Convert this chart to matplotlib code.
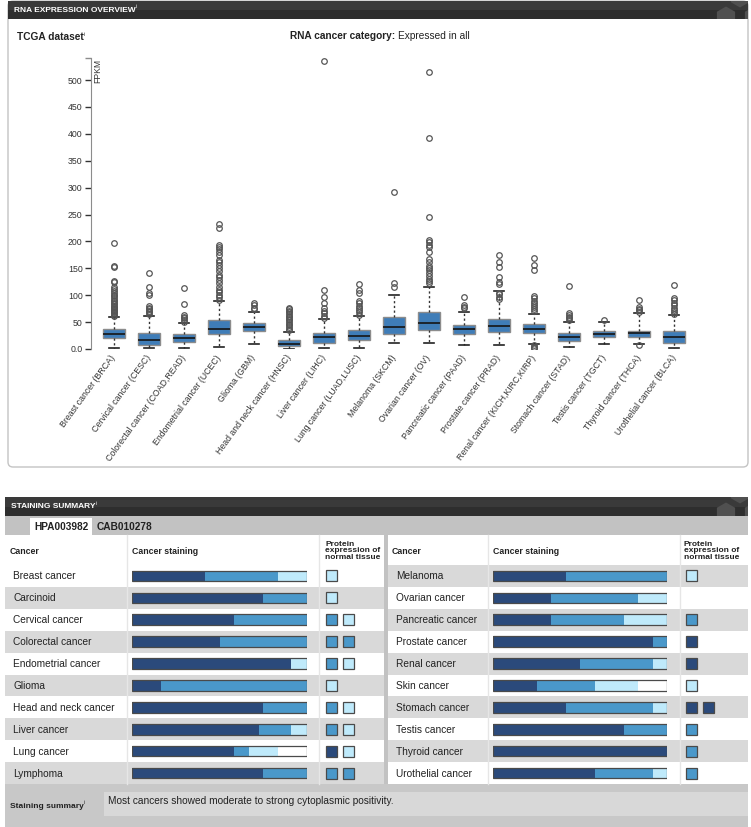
import numpy as np
import matplotlib
matplotlib.use("Agg")
import matplotlib.pyplot as plt
from matplotlib.patches import Rectangle, FancyBboxPatch, RegularPolygon

plt.rcParams['font.family'] = ['Liberation Sans', 'DejaVu Sans']

# --- RNA expression (FPKM) per TCGA cohort ---
cohorts = ["Breast cancer (BRCA)", "Cervical cancer (CESC)", "Colorectal cancer (COAD,READ)",
           "Endometrial cancer (UCEC)", "Glioma (GBM)", "Head and neck cancer (HNSC)",
           "Liver cancer (LIHC)", "Lung cancer (LUAD,LUSC)", "Melanoma (SKCM)",
           "Ovarian cancer (OV)", "Pancreatic cancer (PAAD)", "Prostate cancer (PRAD)",
           "Renal cancer (KICH,KIRC,KIRP)", "Stomach cancer (STAD)", "Testis cancer (TGCT)",
           "Thyroid cancer (THCA)", "Urothelial cancer (BLCA)"]
q1 = [20.5, 7, 13, 27, 33, 5, 12, 17, 27, 35, 27, 32, 30, 15, 22, 23, 12]
med = [27, 16, 20.5, 37, 41, 10, 22, 25, 40, 48, 37, 42, 38, 22, 28, 29, 22]
q3 = [37, 30, 28, 53, 48, 16, 30, 35, 60, 68, 45, 56, 46, 30, 34, 34, 33]
whis_lo = [2.5, 1, 1, 4, 10, 0.5, 1, 2.5, 10.5, 10.5, 8, 7, 10, 4, 10, 10, 2]
whis_hi = [60, 62, 48, 89, 69.5, 32, 56, 61, 101, 116, 68, 108, 65, 51, 50, 66, 63]
outliers = [
    [197, 155, 152, 127, 125, 115, 111, 107, 104, 101, 98, 95, 92, 89, 86, 83, 80, 78, 76, 74, 72, 70, 68, 66, 64, 62],
    [141, 115, 105, 100, 80, 77, 74, 71, 68, 65],
    [114, 83, 63, 60, 57, 54, 51],
    [233, 225, 193, 189, 185, 180, 174, 165, 162, 156, 150, 145, 137, 134, 128, 123, 115, 110, 106, 100, 96, 92],
    [86, 81, 77, 74],
    [77, 74, 71, 68, 65, 62, 59, 56, 53, 50, 47, 44, 41, 38, 35],
    [535, 110, 96, 86, 76, 71, 66, 61, 58],
    [120, 109, 105, 89, 85, 80, 76, 72, 68, 64],
    [292, 123, 116],
    [515, 393, 245, 203, 198, 193, 189, 180, 167, 162, 154, 150, 146, 141, 136, 131, 127, 122],
    [97, 82, 78, 76],
    [175, 162, 153, 133, 125, 121, 105, 102, 97, 93],
    [170, 156, 146, 98, 94, 90, 86, 82, 78, 74, 70, 7, 4, 2, 1],
    [118, 66, 63, 60, 57, 54],
    [53],
    [91, 79, 75, 72, 69, 7.5],
    [119, 95, 91, 86, 82, 77, 72, 69, 65],
]
fpkm_ticks = [0, 50, 100, 150, 200, 250, 300, 350, 400, 450, 500]
fpkm_tick_labels = ["0.0", "50", "100", "150", "200", "250", "300", "350", "400", "450", "500"]

# --- antibody staining summary ---
left_cancers = ["Breast cancer", "Carcinoid", "Cervical cancer", "Colorectal cancer",
                "Endometrial cancer", "Glioma", "Head and neck cancer", "Liver cancer",
                "Lung cancer", "Lymphoma"]
right_cancers = ["Melanoma", "Ovarian cancer", "Pancreatic cancer", "Prostate cancer",
                 "Renal cancer", "Skin cancer", "Stomach cancer", "Testis cancer",
                 "Thyroid cancer", "Urothelial cancer"]
# patients per level: high, medium, low, not detected
left_staining = [[5, 5, 2, 0], [3, 1, 0, 0], [7, 5, 0, 0], [6, 6, 0, 0], [10, 0, 1, 0],
                 [2, 10, 0, 0], [9, 3, 0, 0], [8, 2, 1, 0], [7, 1, 2, 2], [9, 3, 0, 0]]
right_staining = [[5, 7, 0, 0], [4, 6, 2, 0], [4, 5, 3, 0], [11, 1, 0, 0], [6, 5, 1, 0],
                  [3, 4, 3, 2], [5, 6, 1, 0], [9, 3, 0, 0], [12, 0, 0, 0], [7, 4, 1, 0]]
left_normal = [["L"], ["L"], ["M", "L"], ["M", "M"], ["M", "L"], ["L"], ["M", "L"],
               ["M", "L"], ["H", "L"], ["M", "M"]]
right_normal = [["L"], [], ["M"], ["H"], ["H"], ["L"], ["H", "H"], ["M"], ["M"], ["M"]]
summary_text = "Most cancers showed moderate to strong cytoplasmic positivity."

level_colors = ["#2b4a7b", "#4a98ca", "#bfeafb", "#ffffff"]
level_of = {"H": level_colors[0], "M": level_colors[1], "L": level_colors[2]}

W, H = 751, 827
fig = plt.figure(figsize=(W / 100, H / 100), dpi=100)
page = fig.add_axes([0, 0, 1, 1])
page.set_xlim(0, W)
page.set_ylim(H, 0)
page.axis('off')
renderer = fig.canvas.get_renderer()


def px_axes(x0, y0, x1, y1):
    return fig.add_axes([x0 / W, 1 - y1 / H, (x1 - x0) / W, (y1 - y0) / H])


def txt(x, y, s, size=7.3, bold=False, color="#222", **kw):
    return page.text(x, y, s, fontsize=size, fontweight='bold' if bold else 'normal',
                     color=color, va=kw.pop('va', 'center'), ha=kw.pop('ha', 'left'), **kw)


def after(t, gap=0.5):
    return t.get_window_extent(renderer).x1 + gap


def info_mark(t, color="#222"):
    y = t.get_position()[1]
    page.text(after(t, 0.3), y - 3, "i", fontsize=3.8, color=color, va='center')


def header_bar(x0, y0, x1, y1, title):
    page.add_patch(Rectangle((x0, y0), x1 - x0, (y1 - y0) / 2, color="#3a3a3a", lw=0))
    page.add_patch(Rectangle((x0, y0 + (y1 - y0) / 2), x1 - x0, (y1 - y0) / 2, color="#2e2e2e", lw=0))
    clip = Rectangle((x0, y0), x1 - x0, y1 - y0, transform=page.transData)
    for cx, cy in [(x1 - 8, y0 - 4), (x1 - 22, y0 + 16), (x1 + 6, y0 + 16)]:
        hx = RegularPolygon((cx, cy), 6, radius=10.5, color="#505050", lw=0)
        page.add_patch(hx)
        hx.set_clip_path(clip)
    t = txt(x0 + 6, (y0 + y1) / 2, title, size=6, bold=True, color="white")
    info_mark(t, "white")


# ---------------- RNA expression panel ----------------
page.add_patch(FancyBboxPatch((8, 1), 740, 466, boxstyle="round,pad=0,rounding_size=5",
                              fc="white", ec="#c4c4c4", lw=1))
header_bar(8, 1, 748, 19, "RNA EXPRESSION OVERVIEW")
t = txt(17, 37, "TCGA dataset", bold=True)
info_mark(t)
t = txt(290, 36, "RNA cancer category:", bold=True)
txt(after(t, 2.5), 36, "Expressed in all")

ax = px_axes(91, 58.5, 697, 349)
ax.set_facecolor("none")
stats = []
for i in range(len(cohorts)):
    stats.append(dict(med=med[i], q1=q1[i], q3=q3[i], whislo=whis_lo[i], whishi=whis_hi[i],
                      fliers=outliers[i], label=cohorts[i]))
pos = np.arange(len(cohorts))
ax.bxp(stats, positions=pos, widths=0.62, capwidths=0.3, patch_artist=True,
       boxprops=dict(facecolor="#3f7db8", edgecolor="#8c8c8c", lw=1),
       medianprops=dict(color="#151515", lw=1.2),
       whiskerprops=dict(color="#333", lw=1, linestyle=(0, (1.6, 1.8))),
       capprops=dict(color="#222", lw=1.2),
       flierprops=dict(marker='o', markersize=4, markerfacecolor='none',
                       markeredgecolor='#555', markeredgewidth=0.9))
ax.set_xlim(-0.65, len(cohorts) - 0.35)
ax.set_ylim(0, 540)
ax.set_yticks(fpkm_ticks)
ax.set_yticklabels(fpkm_tick_labels)
ax.set_yticks([540], minor=True)
ax.tick_params(axis='y', which='major', length=4, width=1, color='#333', labelsize=6.3,
               labelcolor='#333', pad=2)
ax.tick_params(axis='y', which='minor', length=4, width=1, color='#8c8c8c')
ax.set_xticks(pos)
ax.set_xticklabels(cohorts, rotation=54, ha='right', va='center', rotation_mode='anchor',
                   fontsize=6.3, color='#333')
ax.tick_params(axis='x', length=0, pad=5)
for side in ['top', 'right', 'bottom']:
    ax.spines[side].set_visible(False)
ax.spines['left'].set_color('#8c8c8c')
ax.text(0.004, 1.0, "FPKM", transform=ax.transAxes, rotation=90, fontsize=6.2,
        color='#333', ha='left', va='top')

# ---------------- staining summary panel ----------------
header_bar(5, 497, 748, 516, "STAINING SUMMARY")
page.add_patch(Rectangle((5, 516), 743, 19, color="#c2c2c2", lw=0))
page.add_patch(Rectangle((30, 518), 62, 18, color="white", lw=0))
txt(34, 527, "HPA003982", bold=True, size=7.3)
txt(97, 527, "CAB010278", bold=True, size=7.3)

row_top, row_h, n_rows = 565, 21.9, 10
table_bottom = row_top + row_h * n_rows
page.add_patch(Rectangle((5, 535), 743, row_top - 535, color="white", lw=0))

halves = [
    dict(x0=5, x1=384, name_x=13, head_x=10, stain=(132, 307), prot_x=325, seps=(127, 319),
         cancers=left_cancers, staining=left_staining, normal=left_normal, square_x=326, shade=1),
    dict(x0=388, x1=748, name_x=396, head_x=392, stain=(493, 667), prot_x=684, seps=(488, 680),
         cancers=right_cancers, staining=right_staining, normal=right_normal, square_x=686, shade=0),
]
for hf in halves:
    for r in range(n_rows):
        y = row_top + r * row_h
        fc = "#d9d9d9" if r % 2 == hf['shade'] else "white"
        page.add_patch(Rectangle((hf['x0'], y), hf['x1'] - hf['x0'], row_h, color=fc, lw=0))
    for sx in hf['seps']:
        page.plot([sx, sx], [535, table_bottom], color="#e6e6e6", lw=1)
    txt(hf['head_x'], 551, "Cancer", bold=True, size=6.3)
    txt(hf['stain'][0], 551, "Cancer staining", bold=True, size=6.3)
    txt(hf['prot_x'], 551, "Protein\nexpression of\nnormal tissue", bold=True, size=6,
        linespacing=0.9)
    for r, name in enumerate(hf['cancers']):
        yc = row_top + (r + 0.5) * row_h
        txt(hf['name_x'], yc + 0.5, name)
        for k, lev in enumerate(hf['normal'][r]):
            page.add_patch(Rectangle((hf['square_x'] + 17 * k, yc - 5.5), 11, 11,
                                     fc=level_of[lev], ec="#4a4a4a", lw=0.9))

    sax = px_axes(hf['stain'][0], row_top, hf['stain'][1], table_bottom)
    sax.set_xlim(0, 1)
    sax.set_ylim(n_rows, 0)
    sax.axis('off')
    counts = np.array(hf['staining'], dtype=float)
    fracs = counts / counts.sum(axis=1, keepdims=True)
    left = np.zeros(n_rows)
    yrow = np.arange(n_rows) + 0.5
    for lv in range(4):
        sax.barh(yrow, fracs[:, lv], left=left, height=0.48, color=level_colors[lv], lw=0)
        left += fracs[:, lv]
    sax.barh(yrow, np.ones(n_rows), height=0.48, fill=False, edgecolor="#4a4a4a", lw=0.9)

page.add_patch(Rectangle((384, 535), 4, table_bottom - 535, color="#c2c2c2", lw=0))

page.add_patch(Rectangle((5, table_bottom), 743, H - table_bottom, color="#c8c8c8", lw=0))
page.add_patch(Rectangle((104, 792), 644, 24, color="#d8d8d8", lw=0))
t = txt(10, 806, "Staining summary", bold=True, size=6)
info_mark(t)
txt(108, 801, summary_text)

fig.savefig("out.png", dpi=100)
